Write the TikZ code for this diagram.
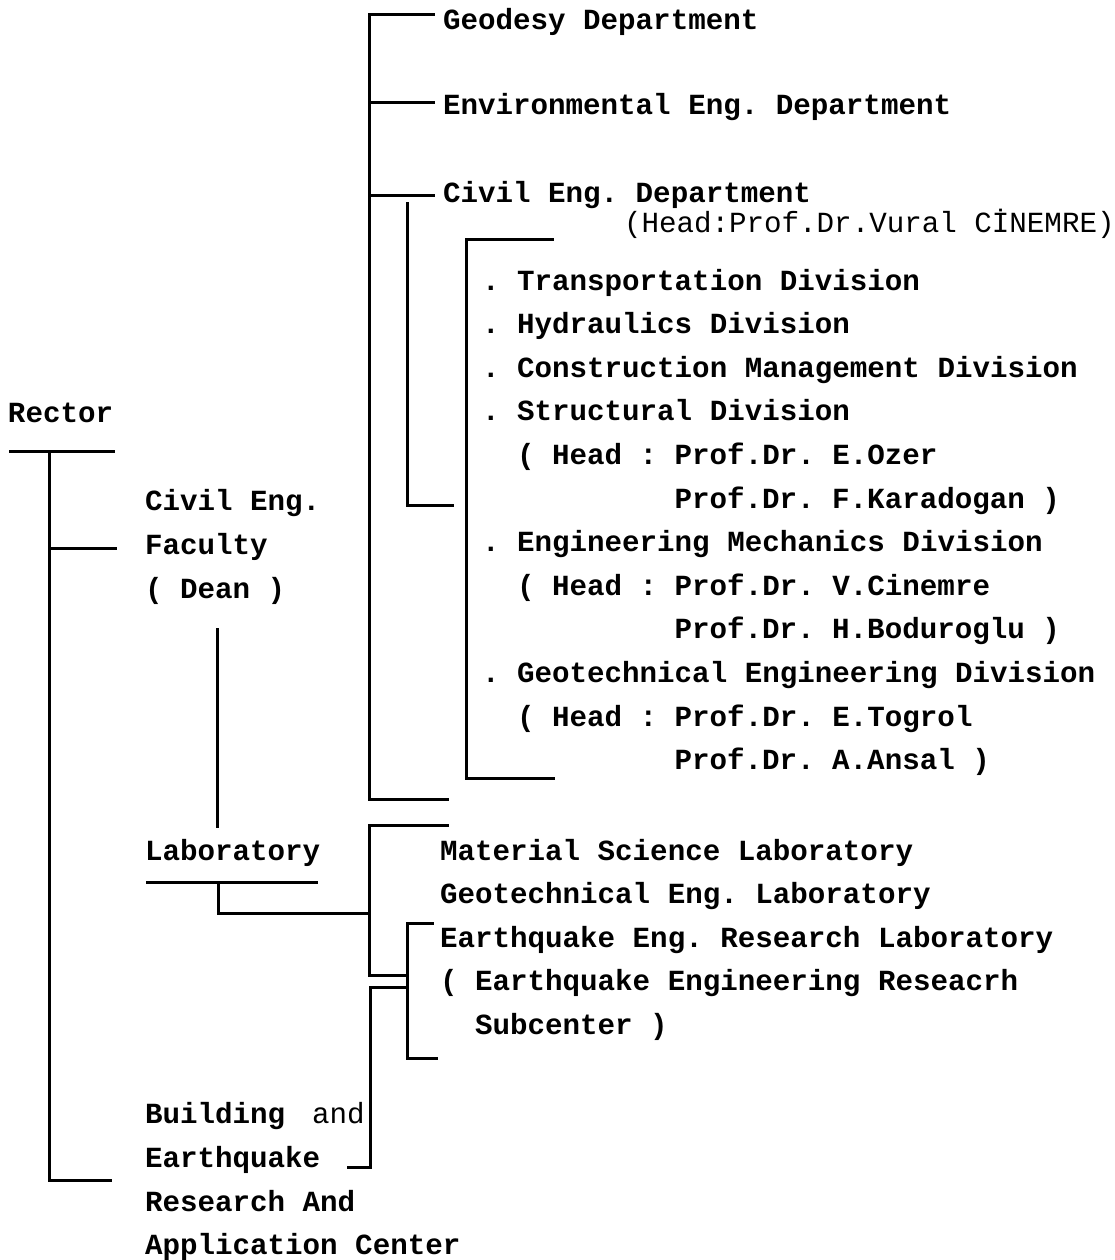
\documentclass[tikz,border=0pt]{standalone}
\usepackage{fontspec}
\setmonofont{Liberation Mono}
\newfontfamily\typew{Liberation Mono}
\frenchspacing
\begin{document}
\begin{tikzpicture}[x=1pt,y=-1pt,
  lbl/.style={anchor=base west,inner sep=0pt,outer sep=0pt,font=\typew\bfseries\fontsize{29.2}{35}\selectfont},
  lbllight/.style={anchor=base west,inner sep=0pt,outer sep=0pt,font=\typew\fontsize{29.2}{35}\selectfont},
  conn/.style={line width=3pt,line cap=rect,line join=miter}]
\useasboundingbox[fill=white] (0,0) rectangle (1114,1260);
% departments
\node[lbl] (geo) at (443,30) {Geodesy Department};
\node[lbl] (env) at (443,115) {Environmental Eng. Department};
\node[lbl] (civ) at (443,202) {Civil Eng. Department};
\node[lbllight] (civhead) at (624,233) {(Head:Prof.Dr.Vural CİNEMRE)};
% divisions
\node[lbl] (d1) at (482,290) {. Transportation Division};
\node[lbl] (d2) at (482,333.6) {. Hydraulics Division};
\node[lbl] (d3) at (482,377.2) {. Construction Management Division};
\node[lbl] (d4) at (482,420.8) {. Structural Division};
\node[lbl] (d4h) at (517,464.4) {( Head : Prof.Dr. E.Ozer};
\node[lbl] (d4h2) at (674.5,508) {Prof.Dr. F.Karadogan )};
\node[lbl] (d5) at (482,551.6) {. Engineering Mechanics Division};
\node[lbl] (d5h) at (517,595.2) {( Head : Prof.Dr. V.Cinemre};
\node[lbl] (d5h2) at (674.5,638.8) {Prof.Dr. H.Boduroglu )};
\node[lbl] (d6) at (482,682.4) {. Geotechnical Engineering Division};
\node[lbl] (d6h) at (517,726) {( Head : Prof.Dr. E.Togrol};
\node[lbl] (d6h2) at (674.5,769.6) {Prof.Dr. A.Ansal )};
% left column
\node[lbl] (rector) at (8,422) {Rector};
\node[lbl] (fac1) at (145,510) {Civil Eng.};
\node[lbl] (fac2) at (145,554) {Faculty};
\node[lbl] (fac3) at (145,598) {( Dean )};
\node[lbl] (lab) at (145,860) {Laboratory};
\node[lbl] (bld1) at (145,1123) {Building};
\node[lbllight] (bld1b) at (312,1123) {and};
\node[lbl] (bld2) at (145,1167) {Earthquake};
\node[lbl] (bld3) at (145,1211) {Research And};
\node[lbl] (bld4) at (145,1254) {Application Center};
% laboratories
\node[lbl] (l1) at (440,860) {Material Science Laboratory};
\node[lbl] (l2) at (440,903.6) {Geotechnical Eng. Laboratory};
\node[lbl] (l3) at (440,947.2) {Earthquake Eng. Research Laboratory};
\node[lbl] (l4) at (440,990.8) {( Earthquake Engineering Reseacrh};
\node[lbl] (l5) at (475,1034.4) {Subcenter )};
% coordinates
\coordinate (mtop) at (369,15);
\coordinate (geoend) at (433,15);
\coordinate (envL) at (369,103);
\coordinate (envend) at (433,103);
\coordinate (civL) at (369,196);
\coordinate (civend) at (433,196);
\coordinate (mbot) at (369,799);
\coordinate (mbotend) at (447,799);
\coordinate (s2top) at (407,203);
\coordinate (s2bot) at (407,505);
\coordinate (s2end) at (452,505);
\coordinate (s3a) at (552,239);
\coordinate (s3b) at (466,239);
\coordinate (s3c) at (466,778);
\coordinate (s3d) at (553,778);
\coordinate (rA) at (10,451);
\coordinate (rB) at (113,451);
\coordinate (rV) at (49,451);
\coordinate (rBot) at (49,1180);
\coordinate (rBotEnd) at (110,1180);
\coordinate (rTick) at (49,548);
\coordinate (rTickEnd) at (115,548);
\coordinate (deanTop) at (217,629);
\coordinate (deanBot) at (217,826);
\coordinate (labA) at (147,882);
\coordinate (labB) at (316,882);
\coordinate (labV) at (218,882);
\coordinate (labC) at (218,913);
\coordinate (labD) at (369,913);
\coordinate (lbTopEnd) at (447,825);
\coordinate (lbTop) at (369,825);
\coordinate (lbBot) at (369,975);
\coordinate (lbBotEnd) at (407,975);
\coordinate (bA) at (407,987);
\coordinate (bB) at (370,987);
\coordinate (bC) at (370,1167);
\coordinate (bD) at (348,1167);
\coordinate (eA) at (432,923);
\coordinate (eB) at (407,923);
\coordinate (eC) at (407,1058);
\coordinate (eD) at (436,1058);
% connectors
\draw[conn] (geoend) -- (mtop) -- (mbot) -- (mbotend);
\draw[conn] (envL) -- (envend);
\draw[conn] (civL) -- (civend);
\draw[conn] (s2top) -- (s2bot) -- (s2end);
\draw[conn] (s3a) -- (s3b) -- (s3c) -- (s3d);
\draw[conn] (rA) -- (rB);
\draw[conn] (rV) -- (rBot) -- (rBotEnd);
\draw[conn] (rTick) -- (rTickEnd);
\draw[conn] (deanTop) -- (deanBot);
\draw[conn] (labA) -- (labB);
\draw[conn] (labV) -- (labC) -- (labD);
\draw[conn] (lbTopEnd) -- (lbTop) -- (lbBot) -- (lbBotEnd);
\draw[conn] (bA) -- (bB) -- (bC) -- (bD);
\draw[conn] (eA) -- (eB) -- (eC) -- (eD);
\end{tikzpicture}
\end{document}
